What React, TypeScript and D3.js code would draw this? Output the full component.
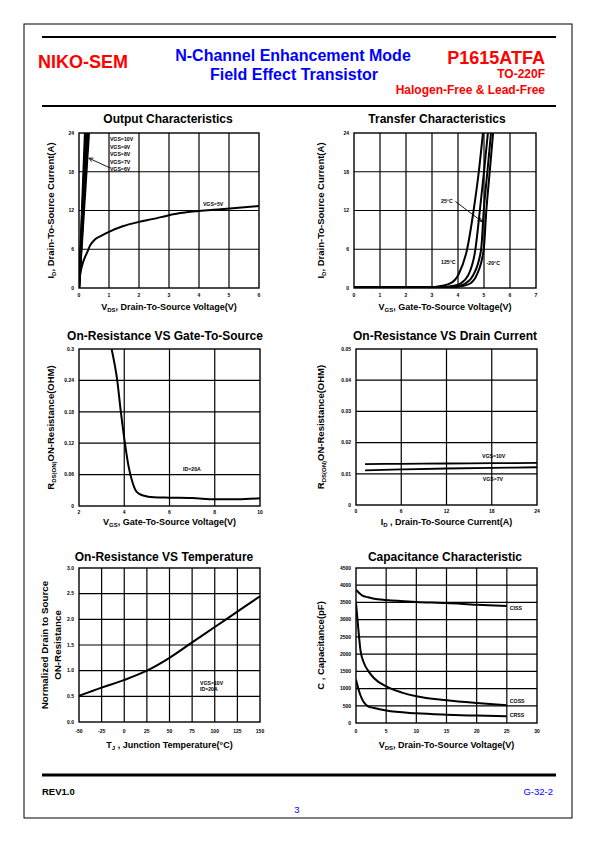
import React from 'react';
import * as d3 from 'd3';

const FONT = '"Liberation Sans", Arial, Helvetica, sans-serif';

// ---------- Output Characteristics ----------
const outVdsTicks = [0, 1, 2, 3, 4, 5, 6];
const outIdTicks = [0, 6, 12, 18, 24];
const outHighVgsLabels = ['VGS=10V', 'VGS=9V', 'VGS=8V', 'VGS=7V', 'VGS=6V'];
const outHighVdsStart = [0, 0, 0, 0, 0];
const outHighVdsAt24A = [0.2, 0.23, 0.26, 0.29, 0.33];
const outVgs5Vds = [0, 0.02, 0.05, 0.1, 0.15, 0.2, 0.27, 0.37, 0.53, 0.75, 1.0, 1.48, 1.97, 2.48, 2.94, 3.37, 3.92, 4.48, 5.03, 6];
const outVgs5Id = [0, 1.3, 2.4, 3.4, 4.2, 4.8, 5.5, 6.6, 7.5, 8.1, 8.7, 9.6, 10.2, 10.7, 11.2, 11.6, 11.9, 12.1, 12.3, 12.7];

// ---------- Transfer Characteristics ----------
const trVgsTicks = [0, 1, 2, 3, 4, 5, 6, 7];
const trIdTicks = [0, 6, 12, 18, 24];
const tr125Vgs = [0, 3.0, 3.32, 3.7, 4.02, 4.35, 4.6, 4.8, 4.96];
const tr125Id = [0.1, 0.12, 0.3, 0.7, 2.1, 6, 12, 18, 24];
const trBVgs = [0, 3.4, 3.77, 4.09, 4.41, 4.67, 4.84, 5.0, 5.15];
const trBId = [0.1, 0.12, 0.3, 0.7, 2.1, 6, 12, 18, 24];
const tr25Vgs = [0, 3.6, 3.96, 4.28, 4.6, 4.89, 4.99, 5.13, 5.27];
const tr25Id = [0.1, 0.12, 0.3, 0.7, 2.1, 6, 12, 18, 24];
const trM20Vgs = [0, 3.8, 4.15, 4.47, 4.73, 4.99, 5.09, 5.22, 5.35];
const trM20Id = [0.1, 0.12, 0.3, 0.7, 2.1, 6, 12, 18, 24];

// ---------- On-Resistance VS Gate-To-Source ----------
const rgVgsTicks = [2, 4, 6, 8, 10];
const rgRTicks = [0, 0.06, 0.12, 0.18, 0.24, 0.3];
const rgRTickLabels = ['0', '0.06', '0.12', '0.18', '0.24', '0.3'];
const rgVgs = [3.44, 3.69, 3.85, 4.03, 4.18, 4.36, 4.55, 4.84, 5.3, 6, 7, 8, 9, 10];
const rgR = [0.3, 0.24, 0.18, 0.12, 0.078, 0.046, 0.027, 0.02, 0.0165, 0.0159, 0.0153, 0.0128, 0.0128, 0.0146];

// ---------- On-Resistance VS Drain Current ----------
const rdIdTicks = [0, 6, 12, 18, 24];
const rdRTicks = [0, 0.01, 0.02, 0.03, 0.04, 0.05];
const rdRTickLabels = ['0', '0.01', '0.02', '0.03', '0.04', '0.05'];
const rdId = [1.2, 6, 12, 18, 24];
const rdVgs10R = [0.0131, 0.0132, 0.0133, 0.0134, 0.0135];
const rdVgs7R = [0.0111, 0.0114, 0.0117, 0.0119, 0.0121];

// ---------- On-Resistance VS Temperature ----------
const rtTempTicks = [-50, -25, 0, 25, 50, 75, 100, 125, 150];
const rtNormTicks = [0, 0.5, 1, 1.5, 2, 2.5, 3];
const rtTemp = [-50, -25, 0, 25, 50, 75, 100, 125, 150];
const rtNorm = [0.51, 0.67, 0.82, 1.0, 1.25, 1.55, 1.85, 2.15, 2.45];

// ---------- Capacitance Characteristic ----------
const capVdsTicks = [0, 5, 10, 15, 20, 25, 30];
const capCTicks = [0, 500, 1000, 1500, 2000, 2500, 3000, 3500, 4000, 4500];
const cissVds = [0, 1, 2, 3, 5, 10, 15, 20, 25];
const cissC = [3870, 3705, 3650, 3610, 3570, 3515, 3485, 3435, 3395];
const cossVds = [0, 0.35, 0.75, 1.3, 2, 3, 5, 7.5, 10, 15, 20, 25];
const cossC = [3480, 2800, 2100, 1750, 1520, 1300, 1065, 890, 775, 660, 580, 515];
const crssVds = [0, 0.35, 0.7, 1.3, 2, 3, 5, 10, 15, 20, 25];
const crssC = [1260, 1020, 820, 600, 485, 435, 360, 280, 240, 215, 195];

type Series = { xs: number[]; ys: number[]; width?: number; color?: string };
type Note = { x: number; y: number; text: string; size?: number; anchor?: string };
type Arrow = { x1: number; y1: number; x2: number; y2: number };

type ChartProps = {
  id: string;
  left: number; top: number; width: number; height: number;
  xDomain: [number, number]; yDomain: [number, number];
  xTicks: number[]; yTicks: number[];
  xTickLabels?: string[]; yTickLabels?: string[];
  title: string; titleX: number; titleY: number;
  xLabel: React.ReactNode; xLabelDy: number; xTickDy: number;
  yLabel: React.ReactNode[]; yLabelX: number[]; yLabelSize?: number;
  series: Series[]; notes?: Note[]; arrows?: Arrow[];
};

function Chart(p: ChartProps) {
  const x = d3.scaleLinear().domain(p.xDomain).range([p.left, p.left + p.width]);
  const y = d3.scaleLinear().domain(p.yDomain).range([p.top + p.height, p.top]);
  const bottom = p.top + p.height;
  const line = d3.line<[number, number]>().x(d => x(d[0])).y(d => y(d[1])).curve(d3.curveMonotoneX);
  const cy = p.top + p.height / 2;
  return (
    <g>
      <defs>
        <clipPath id={'clip-' + p.id}>
          <rect x={p.left} y={p.top} width={p.width} height={p.height} />
        </clipPath>
      </defs>
      <text x={p.titleX} y={p.titleY} textAnchor="middle" fontSize={12} fontWeight="bold" fontFamily={FONT}>{p.title}</text>
      {p.xTicks.slice(1, -1).map(t => (
        <line key={'gx' + t} x1={x(t)} x2={x(t)} y1={p.top} y2={bottom} stroke="#000" strokeWidth={1.2} />
      ))}
      {p.yTicks.slice(1, -1).map(t => (
        <line key={'gy' + t} x1={p.left} x2={p.left + p.width} y1={y(t)} y2={y(t)} stroke="#000" strokeWidth={1.2} />
      ))}
      <rect x={p.left} y={p.top} width={p.width} height={p.height} fill="none" stroke="#000" strokeWidth={1.4} />
      {p.xTicks.map((t, i) => (
        <text key={'tx' + t} x={x(t)} y={bottom + p.xTickDy} textAnchor="middle" fontSize={5} fontWeight="bold" fontFamily={FONT}>
          {p.xTickLabels ? p.xTickLabels[i] : String(t)}
        </text>
      ))}
      {p.yTicks.map((t, i) => (
        <text key={'ty' + t} x={p.left - 5} y={y(t) + 1.8} textAnchor="end" fontSize={5} fontWeight="bold" fontFamily={FONT}>
          {p.yTickLabels ? p.yTickLabels[i] : String(t)}
        </text>
      ))}
      <text x={p.left + p.width / 2} y={bottom + p.xLabelDy} textAnchor="middle" fontSize={9} fontWeight="bold" fontFamily={FONT}>{p.xLabel}</text>
      {p.yLabel.map((lab, i) => (
        <text key={'yl' + i} transform={`translate(${p.yLabelX[i]},${cy}) rotate(-90)`} textAnchor="middle" fontSize={p.yLabelSize || 9.5} fontWeight="bold" fontFamily={FONT}>{lab}</text>
      ))}
      <g clipPath={`url(#clip-${p.id})`}>
        {p.series.map((s, i) => (
          <path key={'s' + i} d={line(s.xs.map((v, j) => [v, s.ys[j]] as [number, number])) || ''} fill="none" stroke={s.color || '#000'} strokeWidth={s.width || 2} strokeLinejoin="round" />
        ))}
      </g>
      {(p.notes || []).map((n, i) => (
        <text key={'n' + i} x={x(n.x)} y={y(n.y)} textAnchor={n.anchor || 'start'} fontSize={n.size || 5.2} fontWeight="bold" fontFamily={FONT}>{n.text}</text>
      ))}
      {(p.arrows || []).map((a, i) => {
        const x1 = x(a.x1), y1 = y(a.y1), x2 = x(a.x2), y2 = y(a.y2);
        const ang = Math.atan2(y2 - y1, x2 - x1);
        const L = 4.5, spread = 0.45;
        const h1x = x2 - L * Math.cos(ang - spread), h1y = y2 - L * Math.sin(ang - spread);
        const h2x = x2 - L * Math.cos(ang + spread), h2y = y2 - L * Math.sin(ang + spread);
        return (
          <g key={'a' + i}>
            <line x1={x1} y1={y1} x2={x2} y2={y2} stroke="#000" strokeWidth={0.9} />
            <polyline points={`${h1x},${h1y} ${x2},${y2} ${h2x},${h2y}`} fill="none" stroke="#000" strokeWidth={0.9} />
          </g>
        );
      })}
    </g>
  );
}

const sub = (s: string) => <tspan fontSize={6} dy={2}>{s}</tspan>;
const back = (s: string) => <tspan dy={-2}>{s}</tspan>;

export default function App() {
  const lbl = (first: string, subs: string, rest: string) => (
    <>
      {first}
      {sub(subs)}
      {back(rest)}
    </>
  );
  return (
    <svg width={595} height={842} viewBox="0 0 595 842" style={{ position: 'absolute', left: 0, top: 0, background: '#fff' }}>
      <rect x={0} y={0} width={595} height={842} fill="#fff" />
      <rect x={24} y={24} width={548} height={794} fill="none" stroke="#000" strokeWidth={1} />
      {/* header */}
      <line x1={42} x2={556} y1={37} y2={37} stroke="#000" strokeWidth={2.2} />
      <line x1={42} x2={556} y1={106} y2={106} stroke="#000" strokeWidth={2.2} />
      <text x={38} y={68} fontSize={18} fontWeight="bold" fill="#ff0000" fontFamily={FONT}>NIKO-SEM</text>
      <text x={293} y={61} textAnchor="middle" fontSize={16} fontWeight="bold" fill="#0000ff" fontFamily={FONT}>N-Channel Enhancement Mode</text>
      <text x={294} y={80} textAnchor="middle" fontSize={16} fontWeight="bold" fill="#0000ff" fontFamily={FONT}>Field Effect Transistor</text>
      <text x={545} y={64} textAnchor="end" fontSize={18} fontWeight="bold" fill="#ff0000" fontFamily={FONT}>P1615ATFA</text>
      <text x={545} y={78} textAnchor="end" fontSize={12} fontWeight="bold" fill="#ff0000" fontFamily={FONT}>TO-220F</text>
      <text x={545} y={94} textAnchor="end" fontSize={12} fontWeight="bold" fill="#ff0000" fontFamily={FONT}>Halogen-Free &amp; Lead-Free</text>

      <Chart
        id="out" left={79} top={133} width={180} height={155}
        xDomain={[0, 6]} yDomain={[0, 24]} xTicks={outVdsTicks} yTicks={outIdTicks}
        title="Output Characteristics" titleX={168} titleY={123}
        xLabel={lbl('V', 'DS', ', Drain-To-Source Voltage(V)')} xLabelDy={22} xTickDy={8.5}
        yLabel={[lbl('I', 'D', ', Drain-To-Source Current(A)')]} yLabelX={[53.5]}
        series={[
          ...outHighVdsAt24A.map((v, i) => ({ xs: [outHighVdsStart[i], v], ys: [0, 24], width: 2.2 })),
          { xs: outVgs5Vds, ys: outVgs5Id, width: 2 },
        ]}
        notes={[
          ...outHighVgsLabels.map((t, i) => ({ x: 1.03, y: 22.75 - i * 1.16, text: t })),
          { x: 4.13, y: 12.7, text: 'VGS=5V' },
        ]}
        arrows={[{ x1: 1.03, y1: 18.6, x2: 0.33, y2: 20.1 }]}
      />

      <Chart
        id="tr" left={354} top={133} width={182} height={155}
        xDomain={[0, 7]} yDomain={[0, 24]} xTicks={trVgsTicks} yTicks={trIdTicks}
        title="Transfer Characteristics" titleX={437} titleY={123}
        xLabel={lbl('V', 'GS', ', Gate-To-Source Voltage(V)')} xLabelDy={22} xTickDy={8.5}
        yLabel={[lbl('I', 'D', ', Drain-To-Source Current(A)')]} yLabelX={[323.5]}
        series={[
          { xs: tr125Vgs, ys: tr125Id },
          { xs: trBVgs, ys: trBId },
          { xs: tr25Vgs, ys: tr25Id },
          { xs: trM20Vgs, ys: trM20Id },
        ]}
        notes={[
          { x: 3.35, y: 13.2, text: '25°C' },
          { x: 3.35, y: 3.7, text: '125°C' },
          { x: 5.1, y: 3.6, text: '-20°C' },
        ]}
        arrows={[{ x1: 3.9, y1: 13.4, x2: 4.92, y2: 10.3 }]}
      />

      <Chart
        id="rg" left={79} top={349} width={181} height={157}
        xDomain={[2, 10]} yDomain={[0, 0.3]} xTicks={rgVgsTicks} yTicks={rgRTicks} yTickLabels={rgRTickLabels}
        title="On-Resistance VS Gate-To-Source" titleX={165} titleY={340}
        xLabel={lbl('V', 'GS', ', Gate-To-Source Voltage(V)')} xLabelDy={19} xTickDy={8}
        yLabel={[lbl('R', 'DS(ON)', 'ON-Resistance(OHM)')]} yLabelX={[53.5]}
        series={[{ xs: rgVgs, ys: rgR }]}
        notes={[{ x: 6.6, y: 0.067, text: 'ID=20A' }]}
      />

      <Chart
        id="rd" left={356} top={349} width={181} height={156}
        xDomain={[0, 24]} yDomain={[0, 0.05]} xTicks={rdIdTicks} yTicks={rdRTicks} yTickLabels={rdRTickLabels}
        title="On-Resistance VS Drain Current" titleX={445} titleY={340}
        xLabel={lbl('I', 'D', ' , Drain-To-Source Current(A)')} xLabelDy={20} xTickDy={8}
        yLabel={[lbl('R', 'DS(ON)', 'ON-Resistance(OHM)')]} yLabelX={[323.5]}
        series={[
          { xs: rdId, ys: rdVgs10R, width: 1.8 },
          { xs: rdId, ys: rdVgs7R, width: 1.8 },
        ]}
        notes={[
          { x: 16.7, y: 0.0151, text: 'VGS=10V' },
          { x: 16.8, y: 0.0077, text: 'VGS=7V' },
        ]}
      />

      <Chart
        id="rt" left={79} top={568} width={181} height={154}
        xDomain={[-50, 150]} yDomain={[0, 3]} xTicks={rtTempTicks} yTicks={rtNormTicks}
        yTickLabels={rtNormTicks.map(v => v.toFixed(1))}
        title="On-Resistance VS Temperature" titleX={164} titleY={561}
        xLabel={lbl('T', 'J', ' , Junction Temperature(°C)')} xLabelDy={26} xTickDy={10.5}
        yLabel={['Normalized Drain to Source', 'ON-Resistance']} yLabelX={[47.5, 60.5]} yLabelSize={9.8}
        series={[{ xs: rtTemp, ys: rtNorm }]}
        notes={[
          { x: 83.7, y: 0.72, text: 'VGS=10V' },
          { x: 83.7, y: 0.595, text: 'ID=20A' },
        ]}
      />

      <Chart
        id="cap" left={356} top={568} width={181} height={155}
        xDomain={[0, 30]} yDomain={[0, 4500]} xTicks={capVdsTicks} yTicks={capCTicks}
        title="Capacitance Characteristic" titleX={445} titleY={561}
        xLabel={lbl('V', 'DS', ', Drain-To-Source Voltage(V)')} xLabelDy={25} xTickDy={10}
        yLabel={['C , Capacitance(pF)']} yLabelX={[323.5]}
        series={[
          { xs: cissVds, ys: cissC },
          { xs: cossVds, ys: cossC },
          { xs: crssVds, ys: crssC },
        ]}
        notes={[
          { x: 25.5, y: 3281, text: 'CISS' },
          { x: 25.5, y: 580, text: 'COSS' },
          { x: 25.5, y: 174, text: 'CRSS' },
        ]}
      />

      {/* footer */}
      <line x1={42} x2={556} y1={775} y2={775} stroke="#000" strokeWidth={3} />
      <text x={42} y={795} fontSize={9.5} fontWeight="bold" fontFamily={FONT}>REV1.0</text>
      <text x={553} y={795} textAnchor="end" fontSize={9.5} fill="#0000ff" fontFamily={FONT}>G-32-2</text>
      <text x={297} y={813} textAnchor="middle" fontSize={9.5} fill="#0000ff" fontFamily={FONT}>3</text>
    </svg>
  );
}
